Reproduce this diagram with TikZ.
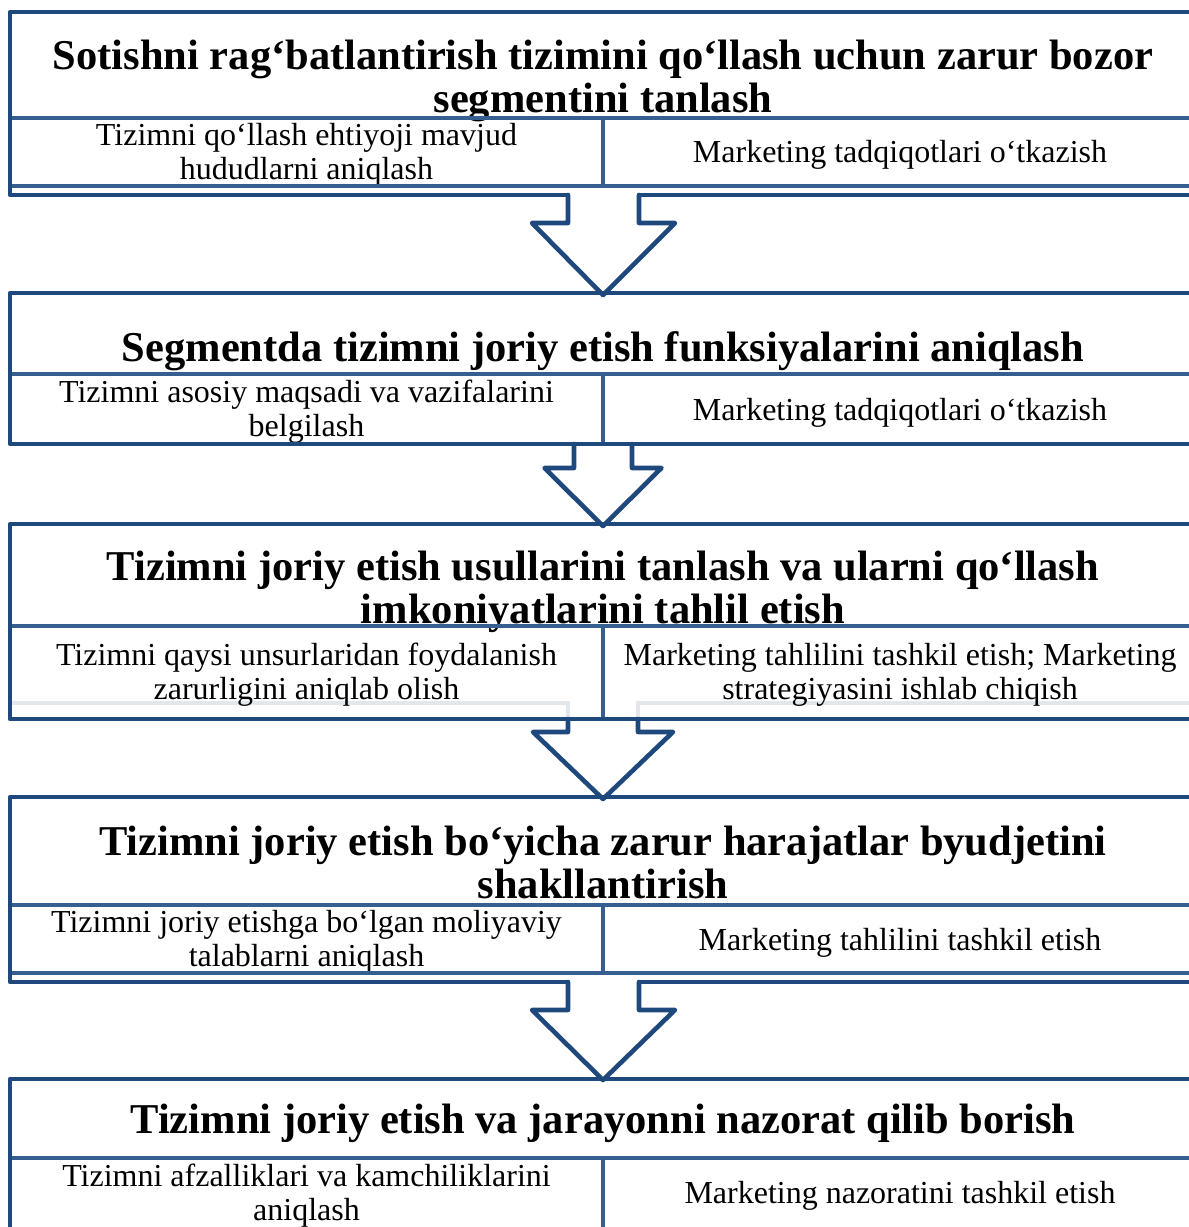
\documentclass[tikz,border=0pt]{standalone}
\usepackage{fontspec}
\setmainfont{Liberation Serif}
\usetikzlibrary{calc}

\definecolor{framec}{HTML}{1F497D}
\definecolor{gridc}{HTML}{365F91}
\definecolor{ghostc}{HTML}{E3E7EC}

\tikzset{
  frameline/.style={draw=framec, line width=4.2pt, line join=round, line cap=round},
  gridline/.style={draw=gridc, line width=4pt},
  ghostline/.style={draw=ghostc, line width=4pt},
  arrowline/.style={draw=framec, line width=4.6pt, line join=round, line cap=round},
  % multi-line texts are placed by the baseline of their last line
  titletext/.style={font=\fontsize{42.5}{43}\selectfont\bfseries, align=center, anchor=base, inner sep=0pt},
  celltext/.style={font=\fontsize{32}{33.5}\selectfont, align=center, anchor=base, inner sep=0pt},
}

% hollow block arrow: base point, tip, half shaft width, half head width, shoulder depth
\newcommand\hollowarrow[5]{%
  \draw[arrowline] ($(#1)+(-#3,0)$) -- ($(#1)+(-#3,#5)$) -- ($(#1)+(-#4,#5)$) -- (#2)
    -- ($(#1)+(#4,#5)$) -- ($(#1)+(#3,#5)$) -- ($(#1)+(#3,0)$);}

\begin{document}
\begin{tikzpicture}[x=1pt,y=-1pt]
\useasboundingbox (0,0) rectangle (1189,1227);
\clip (0,0) rectangle (1189,1227);

% faded outline behind the third block
\draw[ghostline] (12,703) -- (568,703) -- (568,719);
\draw[ghostline] (638,719) -- (638,703) -- (1200,703);

% ---------- texts ----------
\node[titletext] (t1) at (603,112) {Sotishni rag‘batlantirish tizimini qo‘llash uchun zarur bozor\\segmentini tanlash};
\node[celltext] (l1) at (306.5,179) {Tizimni qo‘llash ehtiyoji mavjud\\hududlarni aniqlash};
\node[celltext] (r1) at (900,162) {Marketing tadqiqotlari o‘tkazish};

\node[titletext] (t2) at (603,361) {Segmentda tizimni joriy etish funksiyalarini aniqlash};
\node[celltext] (l2) at (306.5,436) {Tizimni asosiy maqsadi va vazifalarini\\belgilash};
\node[celltext] (r2) at (900,420) {Marketing tadqiqotlari o‘tkazish};

\node[titletext] (t3) at (603,623) {Tizimni joriy etish usullarini tanlash va ularni qo‘llash\\imkoniyatlarini tahlil etish};
\node[celltext] (l3) at (306.5,699) {Tizimni qaysi unsurlaridan foydalanish\\zarurligini aniqlab olish};
\node[celltext] (r3) at (900,699) {Marketing tahlilini tashkil etish; Marketing\\strategiyasini ishlab chiqish};

\node[titletext] (t4) at (603,898) {Tizimni joriy etish bo‘yicha zarur harajatlar byudjetini\\shakllantirish};
\node[celltext] (l4) at (306.5,966) {Tizimni joriy etishga bo‘lgan moliyaviy\\talablarni aniqlash};
\node[celltext] (r4) at (900,950) {Marketing tahlilini tashkil etish};

\node[titletext] (t5) at (603,1133) {Tizimni joriy etish va jarayonni nazorat qilib borish};
\node[celltext] (l5) at (306.5,1220) {Tizimni afzalliklari va kamchiliklarini\\aniqlash};
\node[celltext] (r5) at (900,1203) {Marketing nazoratini tashkil etish};

% ---------- block 1 ----------
\draw[gridline] (10,118) -- (1200,118);
\draw[gridline] (10,186) -- (1200,186);
\draw[gridline] (603,118) -- (603,186);
\draw[frameline] (568,195) -- (10,195) -- (10,12) -- (1200,12);
\draw[frameline] (639,195) -- (1200,195);

% ---------- block 2 ----------
\draw[gridline] (10,374) -- (1200,374);
\draw[gridline] (603,374) -- (603,444);
\draw[frameline] (1200,444) -- (10,444) -- (10,293) -- (1200,293);

% ---------- block 3 ----------
\draw[gridline] (10,626) -- (1200,626);
\draw[gridline] (603,626) -- (603,719);
\draw[frameline] (1200,719) -- (10,719) -- (10,524) -- (1200,524);

% ---------- block 4 ----------
\draw[gridline] (10,905) -- (1200,905);
\draw[gridline] (10,973) -- (1200,973);
\draw[gridline] (603,905) -- (603,973);
\draw[frameline] (568,982) -- (10,982) -- (10,797) -- (1200,797);
\draw[frameline] (639,982) -- (1200,982);

% ---------- block 5 ----------
\draw[gridline] (10,1158) -- (1200,1158);
\draw[gridline] (603,1158) -- (603,1240);
\draw[frameline] (10,1240) -- (10,1079) -- (1200,1079);

% ---------- arrows between blocks ----------
\coordinate (a1) at (603.5,195);  \coordinate (p1) at (603,295);
\coordinate (a2) at (603,444);    \coordinate (p2) at (603,526);
\coordinate (a3) at (603,719);    \coordinate (p3) at (603,799);
\coordinate (a4) at (603.5,982);  \coordinate (p4) at (603,1080);
\hollowarrow{a1}{p1}{35.5}{71.5}{28}
\hollowarrow{a2}{p2}{29}{58.5}{24}
\hollowarrow{a3}{p3}{35}{70}{13}
\hollowarrow{a4}{p4}{35.5}{71.5}{28}
\end{tikzpicture}
\end{document}
